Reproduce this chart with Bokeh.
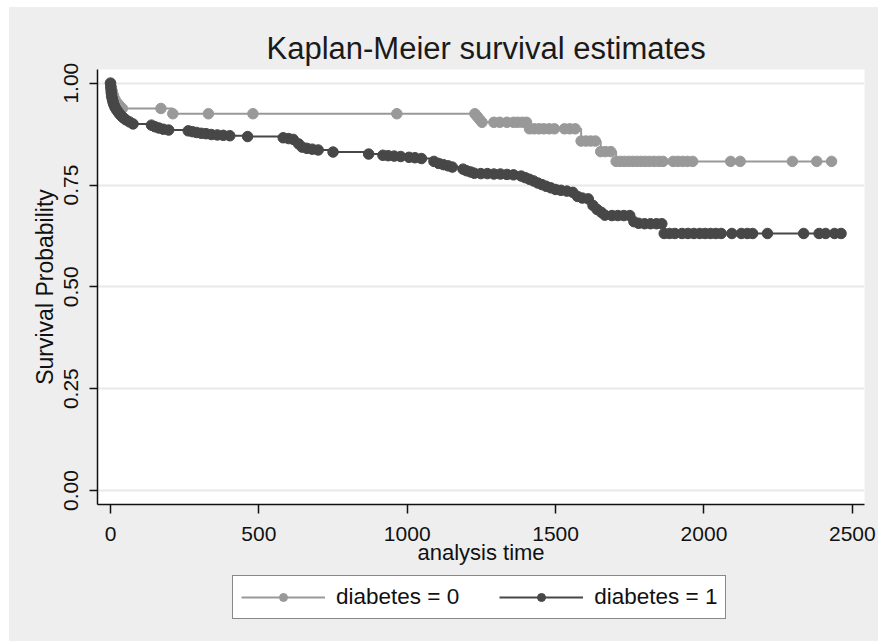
from bokeh.plotting import figure
from bokeh.models import Legend, LegendItem, Range1d, FixedTicker
from bokeh.layouts import column, row
from bokeh.models import Spacer
from bokeh.embed import file_html
from bokeh.resources import INLINE

# ---- data ----
title_text = "Kaplan-Meier survival estimates"
x_label = "analysis time"
y_label = "Survival Probability"
x_ticks = [0, 500, 1000, 1500, 2000, 2500]
y_ticks = [0.0, 0.25, 0.5, 0.75, 1.0]
y_tick_labels = ["0.00", "0.25", "0.50", "0.75", "1.00"]
series_names = ["diabetes = 0", "diabetes = 1"]

# diabetes = 0
t0 = [0, 3, 6, 10, 15, 22, 30, 40, 170, 210, 330, 480, 965, 1228, 1236, 1244, 1252,
      1292, 1312, 1336, 1358, 1372, 1388, 1402, 1412, 1428, 1444, 1460, 1478, 1496,
      1530, 1548, 1566, 1586, 1602, 1618, 1634, 1652, 1668, 1686, 1704, 1718, 1732,
      1746, 1760, 1774, 1788, 1802, 1816, 1832, 1848, 1862, 1896, 1912, 1928, 1944,
      1962, 2090, 2122, 2298, 2380, 2430]
s0 = [1.0, 0.99, 0.98, 0.97, 0.96, 0.952, 0.945, 0.938, 0.938, 0.925, 0.925, 0.925,
      0.925, 0.925, 0.918, 0.911, 0.904, 0.904, 0.904, 0.904, 0.904, 0.904, 0.904,
      0.904, 0.888, 0.888, 0.888, 0.888, 0.888, 0.888, 0.888, 0.888, 0.888, 0.858,
      0.858, 0.858, 0.858, 0.832, 0.832, 0.832, 0.808, 0.808, 0.808, 0.808, 0.808,
      0.808, 0.808, 0.808, 0.808, 0.808, 0.808, 0.808, 0.808, 0.808, 0.808, 0.808,
      0.808, 0.808, 0.808, 0.808, 0.808, 0.808]

# diabetes = 1
t1 = [0, 1, 2, 3, 4, 6, 8, 10, 13, 16, 20, 25, 30, 36, 43, 52, 64, 76, 138, 150,
      163, 178, 196, 262, 276, 290, 306, 322, 340, 360, 380, 402, 462, 582, 600,
      616, 634, 646, 662, 680, 700, 750, 870, 918, 936, 956, 978, 1006, 1026, 1048,
      1090, 1106, 1122, 1138, 1152, 1188, 1200, 1214, 1226, 1248, 1270, 1292, 1314,
      1336, 1358, 1384, 1398, 1412, 1426, 1440, 1454, 1468, 1484, 1500, 1518, 1538,
      1558, 1574, 1590, 1610, 1626, 1640, 1654, 1666, 1690, 1710, 1730, 1750, 1764,
      1780, 1800, 1820, 1840, 1858, 1866, 1884, 1902, 1926, 1946, 1966, 1986, 2004,
      2022, 2040, 2058, 2094, 2126, 2146, 2164, 2214, 2336, 2388, 2410, 2440, 2462]
s1 = [1.0, 0.99, 0.982, 0.975, 0.968, 0.962, 0.956, 0.95, 0.945, 0.94, 0.935, 0.93,
      0.925, 0.92, 0.915, 0.91, 0.905, 0.9, 0.897, 0.893, 0.89, 0.887, 0.885, 0.883,
      0.881, 0.879, 0.877, 0.876, 0.874, 0.873, 0.872, 0.871, 0.869, 0.866, 0.864,
      0.862, 0.851, 0.843, 0.84, 0.838, 0.836, 0.831, 0.826, 0.823, 0.822, 0.821,
      0.82, 0.818, 0.817, 0.815, 0.808, 0.803, 0.8, 0.797, 0.794, 0.789, 0.785,
      0.782, 0.779, 0.778, 0.778, 0.777, 0.777, 0.776, 0.775, 0.772, 0.768, 0.764,
      0.76, 0.755, 0.751, 0.747, 0.743, 0.739, 0.737, 0.735, 0.732, 0.722, 0.718,
      0.716, 0.7, 0.69, 0.683, 0.676, 0.675, 0.675, 0.675, 0.675, 0.66, 0.656,
      0.655, 0.655, 0.655, 0.655, 0.631, 0.631, 0.631, 0.631, 0.631, 0.631, 0.631,
      0.631, 0.631, 0.631, 0.631, 0.631, 0.631, 0.631, 0.631, 0.631, 0.631, 0.631,
      0.631, 0.631, 0.631]

# ---- styling ----
BG = "#eeeeee"
C0 = "#999999"
C1 = "#474747"
FONT = "Liberation Sans"
MSIZE = 10.5

p = figure(width=869, height=564, output_backend="svg", toolbar_location=None,
           x_range=Range1d(-43.8, 2541), y_range=Range1d(-0.0344, 1.0336),
           min_border_left=88, min_border_right=14, min_border_top=62,
           min_border_bottom=67)
p.background_fill_color = "white"
p.border_fill_color = BG
p.outline_line_color = None

p.title.text = title_text
p.title.align = "left"
p.title.offset = 169
p.title.text_font = FONT
p.title.text_font_size = "31px"
p.title.text_font_style = "normal"
p.title.text_color = "#1a1a1a"
p.title.standoff = 8

for ax in (p.xaxis[0], p.yaxis[0]):
    ax.axis_line_color = "#111111"
    ax.axis_line_width = 1.5
    ax.major_tick_line_color = "#111111"
    ax.major_tick_line_width = 1.5
    ax.minor_tick_line_color = None
    ax.major_tick_in = 0
    ax.major_label_text_font = FONT
    ax.major_label_text_font_size = "21px"
    ax.major_label_text_color = "#111111"
    ax.axis_label_text_font = FONT
    ax.axis_label_text_font_size = "22px"
    ax.axis_label_text_font_style = "normal"
    ax.axis_label_text_color = "#111111"

p.xaxis.ticker = FixedTicker(ticks=x_ticks)
p.xaxis.axis_label = x_label
p.xaxis.major_tick_out = 9
p.xaxis.major_label_standoff = 13
p.xaxis.axis_label_standoff = -4

p.yaxis.ticker = FixedTicker(ticks=y_ticks)
p.yaxis.major_label_overrides = {v: lab for v, lab in zip(y_ticks, y_tick_labels)}
p.yaxis.axis_label = y_label
p.yaxis.axis_label_text_font_size = "23px"
p.yaxis.major_tick_out = 8
p.yaxis.major_label_standoff = 11
p.yaxis.major_label_orientation = "vertical"
p.yaxis.axis_label_standoff = 4

p.xgrid.grid_line_color = None
p.ygrid.grid_line_color = "#e8e8e8"
p.ygrid.grid_line_width = 2

p.step(t0, s0, mode="after", line_color=C0, line_width=2)
p.scatter(t0, s0, marker="circle", size=MSIZE, fill_color=C0, line_color=C0)
p.step(t1, s1, mode="after", line_color=C1, line_width=2)
p.scatter(t1, s1, marker="circle", size=MSIZE, fill_color=C1, line_color=C1)

# ---- legend strip (own small figure, same background); its renderers use the
# same series but its y range keeps them out of view, so only the legend shows ----
pl = figure(width=869, height=70, output_backend="svg", toolbar_location=None,
            x_range=Range1d(0, 1), y_range=Range1d(5, 6),
            x_axis_type=None, y_axis_type=None,
            min_border_left=0, min_border_right=0, min_border_top=0, min_border_bottom=0)
pl.background_fill_color = BG
pl.border_fill_color = BG
pl.outline_line_color = None
pl.xgrid.visible = False
pl.ygrid.visible = False
g0l = pl.step(t0, s0, mode="after", line_color=C0, line_width=2)
g0m = pl.scatter(t0, s0, marker="circle", size=9, fill_color=C0, line_color=C0)
g1l = pl.step(t1, s1, mode="after", line_color=C1, line_width=2)
g1m = pl.scatter(t1, s1, marker="circle", size=9, fill_color=C1, line_color=C1)

legend = Legend(items=[LegendItem(label=series_names[0], renderers=[g0l, g0m]),
                       LegendItem(label=series_names[1], renderers=[g1l, g1m])],
                orientation="horizontal", location=(135, 22))
legend.label_text_font = FONT
legend.label_text_font_size = "22.5px"
legend.label_text_color = "#111111"
legend.glyph_width = 84
legend.glyph_height = 20
legend.label_height = 20
legend.label_standoff = 11
legend.spacing = 40
legend.padding = 8
legend.margin = 0
legend.border_line_color = "#111111"
legend.border_line_width = 1.5
legend.background_fill_color = "white"
legend.background_fill_alpha = 1.0
pl.add_layout(legend, "center")

inner = column(p, pl, spacing=0, styles={"background-color": BG})
layout = column(Spacer(height=7), row(Spacer(width=9), inner), spacing=0)
open("out.html", "w").write(file_html(layout, INLINE))
